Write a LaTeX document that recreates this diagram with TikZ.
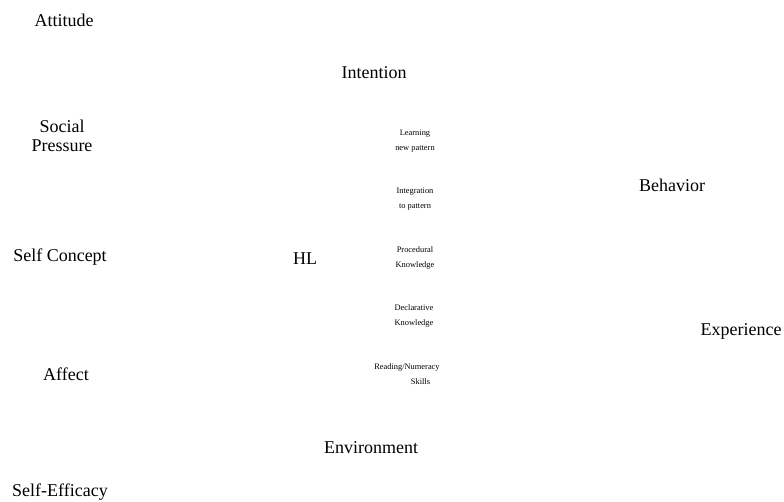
\documentclass[tikz,border=0pt]{standalone}
\usepackage{fontspec}
\setmainfont{Liberation Serif}
\usepackage{tikz}
\usetikzlibrary{positioning}

\begin{document}
\begin{tikzpicture}[
      x=1pt, y=-1pt,
      factor/.style={inner sep=1pt, align=center, font=\fontsize{18}{19}\selectfont},
      level/.style={inner sep=1pt, align=center, font=\fontsize{8.4}{15.5}\selectfont}
    ]
    \useasboundingbox (0,0) rectangle (784,502);

    % Left column of factors
    \node[factor] (attitude) at (64,20) {Attitude};
    \node[factor] (social) at (62,136) {Social\\Pressure};
    \node[factor] (selfconcept) at (60,257) {Self Concept};
    \node[factor] (affect) at (66,374) {Affect};
    \node[factor] (selfefficacy) at (60,492) {Self-Efficacy};

    % Middle
    \node[factor] (intention) at (374,73) {Intention};
    \node[factor] (hl) at (305,259) {HL};
    \node[factor] (environment) at (371,448) {Environment};

    % HL levels
    \node[level] (learning) at (415,141) {Learning\\new pattern};
    \node[level] (integration) at (415,199) {Integration\\ to pattern};
    \node[level] (procedural) at (415,258) {Procedural\\Knowledge};
    \node[level] (declarative) at (414,316) {Declarative\\ Knowledge};
    \node[level] (reading) at (407,374) {Reading/Numeracy\\\hspace*{27pt}Skills};

    % Right
    \node[factor] (behavior) at (672,185) {Behavior};
    \node[factor] (experience) at (741,331) {Experience};
  \end{tikzpicture}
\end{document}
